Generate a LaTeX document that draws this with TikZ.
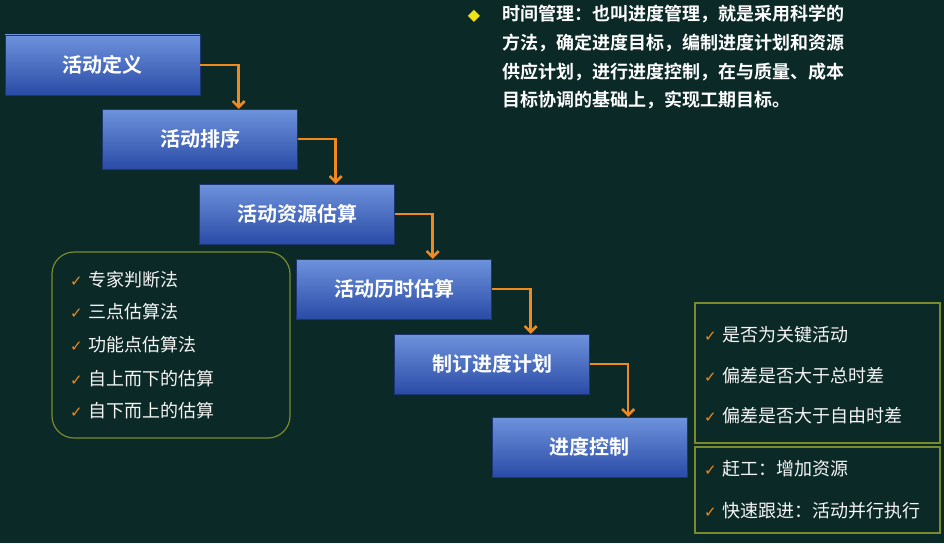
\documentclass[tikz,border=0pt]{standalone}
\usepackage{fontspec}
\setmainfont{Noto Sans CJK SC}
\newfontfamily\cjkb{Noto Sans CJK SC Bold}
\newfontfamily\dv{DejaVu Sans}
\usetikzlibrary{arrows.meta}
\definecolor{bg}{HTML}{0B2927}
\definecolor{btop}{HTML}{6E93DC}
\definecolor{bbot}{HTML}{2A4BA6}
\definecolor{arr}{HTML}{F08A1E}
\definecolor{olive}{HTML}{7A8A2E}
\newcommand{\ck}{{\dv\color{arr}\fontsize{15}{15}\selectfont ✓}\hspace{6pt}}
\tikzset{
  stage/.style={minimum width=195pt,minimum height=60pt,top color=btop,bottom color=bbot,draw=bbot!70!black,line width=0.4pt,text=white,font=\cjkb\fontsize{20}{20}\selectfont,inner sep=0pt},
  flow/.style={draw=arr,line width=2.5pt,-{Straight Barb[length=6pt,width=12pt]}},
  item/.style={anchor=west,text=white!92!gray,font=\fontsize{18}{18}\selectfont,inner sep=0pt},
  panel/.style={draw=olive,line width=1.2pt}
}
\begin{document}
\begin{tikzpicture}[x=1pt,y=-1pt]
\fill[bg] (0,0) rectangle (944,543);
\useasboundingbox (0,0) rectangle (944,543);
\node[stage] (s1) at (102.5,65) {活动定义};
\node[stage] (s2) at (200,139) {活动排序};
\node[stage] (s3) at (297,214) {活动资源估算};
\node[stage] (s4) at (394,289) {活动历时估算};
\node[stage] (s5) at (492,364) {制订进度计划};
\node[stage] (s6) at (589.5,447) {进度控制};
\draw[flow] (s1.east) -| ([xshift=-59pt]s2.north east);
\draw[flow] (s2.east) -| ([xshift=-59pt]s3.north east);
\draw[flow] (s3.east) -| ([xshift=-59pt]s4.north east);
\draw[flow] (s4.east) -| ([xshift=-59pt]s5.north east);
\draw[flow] (s5.east) -| ([xshift=-59pt]s6.north east);
\draw[panel,rounded corners=22pt] (52,252) rectangle (290,438);
\node[item] (l1) at (70,280) {\ck 专家判断法};
\node[item] (l2) at (70,312) {\ck 三点估算法};
\node[item] (l3) at (70,345) {\ck 功能点估算法};
\node[item] (l4) at (70,379) {\ck 自上而下的估算};
\node[item] (l5) at (70,411) {\ck 自下而上的估算};
\draw[panel] (695,303) rectangle (940,443);
\draw[panel] (695,447) rectangle (940,533);
\node[item] (r1) at (704,335) {\ck 是否为关键活动};
\node[item] (r2) at (704,376) {\ck 偏差是否大于总时差};
\node[item] (r3) at (704,416) {\ck 偏差是否大于自由时差};
\node[item] (r4) at (704,469) {\ck 赶工：增加资源};
\node[item] (r5) at (704,511) {\ck 快速跟进：活动并行执行};
\node[text=yellow!85!olive,font=\dv\fontsize{16}{16}\selectfont] (dm) at (474,16) {◆};
\node[anchor=north west,text=white,font=\cjkb\fontsize{18}{28.7}\selectfont,align=left,inner sep=0pt] (t) at (502,5)
 {时间管理：也叫进度管理，就是采用科学的\\方法，确定进度目标，编制进度计划和资源\\供应计划，进行进度控制，在与质量、成本\\目标协调的基础上，实现工期目标。};
\end{tikzpicture}
\end{document}
